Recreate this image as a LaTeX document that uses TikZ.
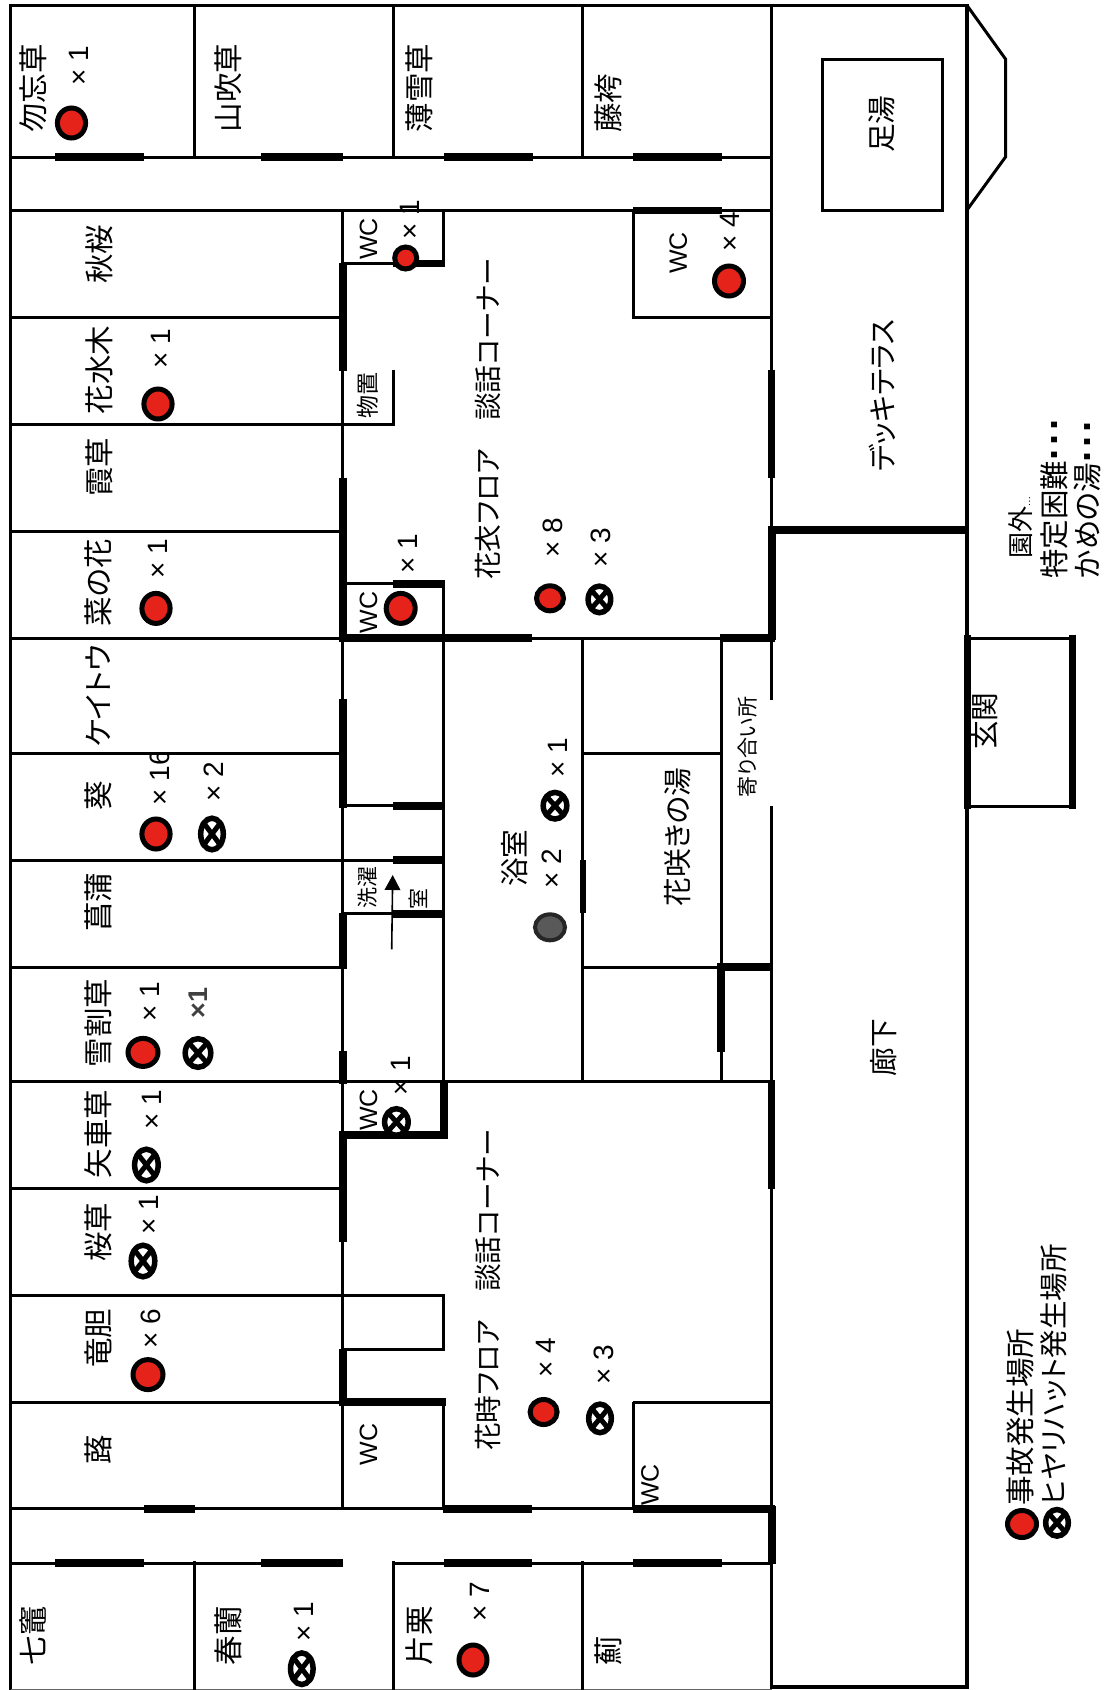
\documentclass[tikz,border=0pt]{standalone}
\usepackage{fontspec}
\setmainfont[RawFeature=+palt]{Noto Sans CJK JP}
\newfontfamily\latfont{Liberation Sans}
\usetikzlibrary{arrows.meta}
\definecolor{accred}{HTML}{E5231B}
\tikzset{
  wall/.style={line width=3pt,black},
  thk/.style={line width=7.8pt,black},
  txt/.style={rotate=90,inner sep=0pt,anchor=center,black},
  rm/.style={txt,font=\fontsize{29.5}{29.5}\selectfont,text height=25pt,text depth=4.5pt},
  lab/.style={txt,font=\fontsize{28.7}{28.7}\selectfont,text height=24.5pt,text depth=4.2pt},
  long/.style={lab,font=\fontsize{27.7}{27.7}\selectfont},
  tiny/.style={txt,font=\fontsize{21}{21}\selectfont,text height=18pt,text depth=3pt},
  small/.style={txt,font=\fontsize{23}{23}\selectfont,text height=20pt,text depth=3pt},
  cnt/.style={txt,font=\fontsize{28}{28}\latfont,text height=20pt,text depth=0pt},
  wc/.style={txt,font=\fontsize{25}{25}\latfont,text height=18pt,text depth=0pt},
}
\newcommand{\redc}[4]{\draw[line width=5pt,fill=accred] (#1,#2) ellipse[x radius=#3-2.5,y radius=#4-2.5];}
\newcommand{\grayc}[4]{\draw[line width=4pt,draw=black!85,fill=black!65] (#1,#2) ellipse[x radius=#3-2,y radius=#4-2];}
\newcommand{\xc}[4]{%
  \draw[line width=5.5pt,fill=white] (#1,#2) ellipse[x radius=#3-2.7,y radius=#4-2.7];
  \draw[line width=5pt] (#1-#3*.68,#2-#4*.68) -- (#1+#3*.68,#2+#4*.68);
  \draw[line width=5pt] (#1-#3*.68,#2+#4*.68) -- (#1+#3*.68,#2-#4*.68);}
\newcommand{\sqd}{\raisebox{8pt}{\fontsize{40}{40}\latfont\bfseries .\kern4pt.\kern4pt.}}
\begin{document}
\begin{tikzpicture}[x=1pt,y=-1pt]
\useasboundingbox (0,0) rectangle (1104,1690);
\fill[white] (0,0) rectangle (1104,1690);
% outer frame
\draw[wall,line width=3.4pt] (10.7,1690) -- (10.7,5.4) -- (967,5.4) -- (967,1687) -- (771.5,1687) -- (771.5,806);
\draw[wall] (771.5,700) -- (771.5,5.4);
\draw[wall,line width=1pt,black!60] (10.7,1689.5) -- (771.5,1689.5);
\draw[wall] (967,5.4) -- (1005.5,59) -- (1005.5,157) -- (967,210);
\draw[wall] (822,59) rectangle (942.5,210.5);
% top wing
\foreach \xx in {194.6,393.6,582.4}{\draw[wall] (\xx,5.4) -- (\xx,157);\draw[wall] (\xx,1561) -- (\xx,1690);}
\draw[wall] (10.7,157) -- (771.5,157);
\draw[wall] (10.7,210.4) -- (771.5,210.4);
\draw[wall] (10.7,1508.8) -- (771.5,1508.8);
\draw[wall] (10.7,1563) -- (343,1563);
\draw[wall] (393.6,1563) -- (771.5,1563);
% central corridor line and room lines
\draw[wall] (342,210.4) -- (342,1508.8);
\foreach \yy in {317,531,753,967,1188}{\draw[wall] (10.7,\yy) -- (343,\yy);}
\draw[wall] (10.7,424) -- (393.6,424) -- (393.6,370);
\draw[wall] (10.7,638) -- (771.5,638);
\draw[wall] (10.7,860) -- (443,860);
\draw[wall] (10.7,1081.5) -- (771.5,1081.5);
\draw[wall] (10.7,1295) -- (443,1295) -- (443,1349) -- (342,1349);
\draw[wall] (10.7,1402) -- (445,1402);
\draw[wall] (342,263.5) -- (443,263.5) -- (443,210.4);
\draw[wall] (342,583.7) -- (443,583.7);
\draw[wall] (443,583.7) -- (443,1081.5);
\draw[wall] (342,805.6) -- (443,805.6);
\draw[wall] (342,913.7) -- (443,913.7);
\draw[wall] (443,1402) -- (443,1508.8);
% right-hand rooms
\draw[wall] (633.5,210.4) -- (633.5,317) (631.5,317) -- (771.5,317);
\draw[wall] (582.5,638) -- (582.5,1081.5);
\draw[wall] (721.5,638) -- (721.5,1081.5);
\draw[wall] (582.5,753) -- (721.5,753);
\draw[wall] (582.5,967) -- (721.5,967);
\draw[wall] (633,1402) -- (771.5,1402) (633,1402) -- (633,1508.8);
% entrance
\draw[wall] (967.5,638) -- (1072.5,638) (967.5,806.7) -- (1072.5,806.7);
\draw[thk] (967.5,634.5) -- (967.5,808.5);
\draw[thk] (1072.5,634.5) -- (1072.5,808.5);
% thick bars
\draw[thk] (55,157) -- (144,157) (261,157) -- (343,157) (444,157) -- (533,157) (633,157) -- (722,157);
\draw[thk] (633,210.4) -- (722,210.4);
\draw[thk] (343,262.5) -- (343,370.7) (393,263.5) -- (445,263.5);
\draw[thk] (771.5,370) -- (771.5,477.6);
\draw[thk] (343,477.5) -- (343,640);
\draw[thk] (393,583.7) -- (445,583.7);
\draw[thk] (339,638) -- (532,638);
\draw[thk] (720,638) -- (775,638);
\draw[thk] (772,530) -- (772,640);
\draw[thk] (768,530) -- (967,530);
\draw[thk] (343,699) -- (343,807.5) (393,805.6) -- (443,805.6);
\draw[thk] (393,860) -- (443,860) (393,913.7) -- (443,913.7);
\draw[thk] (343,912.5) -- (343,969);
\draw[thk,line width=6pt] (582.5,860) -- (582.5,913);
\draw[thk] (717,967) -- (771.5,967) (721,963.5) -- (721,1051.7);
\draw[thk] (343,1051) -- (343,1084);
\draw[thk] (771.5,1080) -- (771.5,1188.6);
\draw[thk] (444,1081) -- (444,1138.5) (339,1135) -- (447,1135);
\draw[thk] (343,1135) -- (343,1241.6);
\draw[thk] (343,1348.5) -- (343,1406) (339,1402) -- (445.7,1402);
\draw[thk] (144,1508.8) -- (194.6,1508.8) (443,1508.8) -- (532,1508.8) (633,1508.8) -- (775,1508.8);
\draw[thk] (772,1506) -- (772,1564);
\draw[thk] (55,1563) -- (144,1563) (261,1563) -- (343,1563) (444,1563) -- (532,1563) (633,1563) -- (722,1563);
% wash-room arrow
\coordinate (arrS) at (391.7,949.3);
\coordinate (arrE) at (392.7,875);
\draw[line width=1.6pt,-{Triangle[length=15pt,width=15.6pt]}] (arrS) -- (arrE);
% room names
\node[rm] (n01) at (34,88.4) {勿忘草};
\node[rm] (n02) at (229.6,88) {山吹草};
\node[rm] (n03) at (420.6,88) {薄雪草};
\node[rm] (n04) at (609.3,103) {藤袴};
\node[rm] (n05) at (100,254) {秋桜};
\node[rm] (n06) at (100,370) {花水木};
\node[rm] (n07) at (100,467) {霞草};
\node[rm] (n08) at (99,583) {菜の花};
\node[rm] (n09) at (99,696) {ケイトウ};
\node[rm] (n10) at (99,796) {葵};
\node[rm] (n11) at (99,902) {菖蒲};
\node[rm] (n12) at (99,1023) {雪割草};
\node[rm] (n13) at (99,1134) {矢車草};
\node[rm] (n14) at (99,1232) {桜草};
\node[rm] (n15) at (99,1338) {竜胆};
\node[rm] (n16) at (99,1450) {蕗};
\node[rm] (n17) at (34,1635.5) {七竈};
\node[rm] (n18) at (229.6,1635.5) {春蘭};
\node[rm] (n19) at (420.6,1635.5) {片栗};
\node[rm] (n20) at (609,1651) {薊};
% area names
\node[long] (a01) at (488.5,419) {花衣フロア　談話コーナー};
\node[long] (a02) at (488.5,1290) {花時フロア　談話コーナー};
\node[lab] (a03) at (515,858) {浴室};
\node[lab] (a04) at (678.5,837) {花咲きの湯};
\node[tiny] (a05) at (747.5,747) {寄り合い所};
\node[lab] (a06) at (884,1047.5) {廊下};
\node[lab] (a07) at (985,721) {玄関};
\node[lab] (a08) at (882,124) {足湯};
\node[lab] (a09) at (883.4,395.7) {デッキテラス};
\node[small] (a10) at (368,395) {物置};
\node[tiny] (a11) at (368,887) {洗濯};
\node[tiny] (a12) at (419,898.6) {室};
% WCs
\node[wc] (w1) at (368,238.8) {WC};
\node[wc] (w2) at (677.8,253) {WC};
\node[wc] (w3) at (368,612.7) {WC};
\node[wc] (w4) at (368,1110) {WC};
\node[wc] (w5) at (368,1444.7) {WC};
\node[wc] (w6) at (649.7,1485) {WC};
% markers
\redc{71.5}{123}{16.6}{17.5}
\redc{158}{404}{16.6}{17.5}
\redc{405.7}{258}{13.5}{13.5}
\redc{729}{281}{17}{17.5}
\redc{156}{608.4}{16.6}{17.5}
\redc{400.7}{608.4}{17}{17.5}
\redc{550}{598.3}{16}{15}
\xc{599.4}{599.4}{14}{16}
\redc{156}{834}{16.6}{17.5}
\xc{212}{834}{14}{18.5}
\xc{555}{805.7}{14.5}{16}
\grayc{550}{927.3}{17}{15}
\redc{143}{1052.4}{17.5}{16.5}
\xc{198}{1053}{15.5}{17}
\xc{396.4}{1122}{14.5}{16}
\xc{146.4}{1165}{14.5}{18.5}
\xc{143}{1261}{14.5}{18.5}
\redc{148}{1374.6}{17.5}{17.5}
\redc{543.6}{1412}{16}{15}
\xc{600}{1418.4}{14}{17}
\xc{301.8}{1668.7}{14}{18.5}
\redc{473}{1660}{16.5}{17.5}
\redc{1022}{1524}{17}{16}
\xc{1057}{1522.8}{14}{16}
% counts
\node[cnt] (c01) at (78.6,65.7) {× 1};
\node[cnt] (c02) at (160.7,349) {× 1};
\node[cnt] (c03) at (409.6,220) {× 1};
\node[cnt] (c04) at (729.6,232) {× 4};
\node[cnt] (c05) at (552,537.7) {× 8};
\node[cnt] (c06) at (600.4,547.8) {× 3};
\node[cnt] (c07) at (157,559) {× 1};
\node[cnt] (c08) at (407,554) {× 1};
\begin{scope}
\clip (130,755) rectangle (190,815);
\node[cnt] (c09) at (159,777.7) {× 16};
\end{scope}
\node[cnt] (c10) at (213,781.4) {× 2};
\node[cnt] (c11) at (557.5,757.8) {× 1};
\node[cnt] (c12) at (551.5,869) {× 2};
\node[cnt] (c13) at (149,1002) {× 1};
\node[cnt,text=black!75,font=\fontsize{27}{27}\latfont\bfseries] (c14) at (197,1003) {×1};
\node[cnt] (c15) at (400.7,1076) {× 1};
\node[cnt] (c16) at (151.8,1109.8) {× 1};
\node[cnt] (c17) at (148,1214.7) {× 1};
\node[cnt] (c18) at (150.7,1329) {× 6};
\node[cnt] (c19) at (545,1357.7) {× 4};
\node[cnt] (c20) at (603.7,1365) {× 3};
\node[cnt] (c21) at (303,1621.5) {× 1};
\node[cnt] (c22) at (479,1602) {× 7};
% side notes and legend
\node[lab,anchor=west,font=\fontsize{26}{26}\selectfont] (l1) at (1020,559) {園外{\fontsize{9}{9}\selectfont …}};
\node[rm,anchor=west] (l2) at (1055,579) {特定困難\sqd};
\node[rm,anchor=west] (l3) at (1088.6,579) {かめの湯\sqd};
\node[rm,anchor=west] (l4) at (1021,1506) {事故発生場所};
\node[rm,anchor=west,font=\fontsize{28.5}{28.5}\selectfont] (l5) at (1054.4,1506) {ヒヤリハット発生場所};
\end{tikzpicture}
\end{document}
